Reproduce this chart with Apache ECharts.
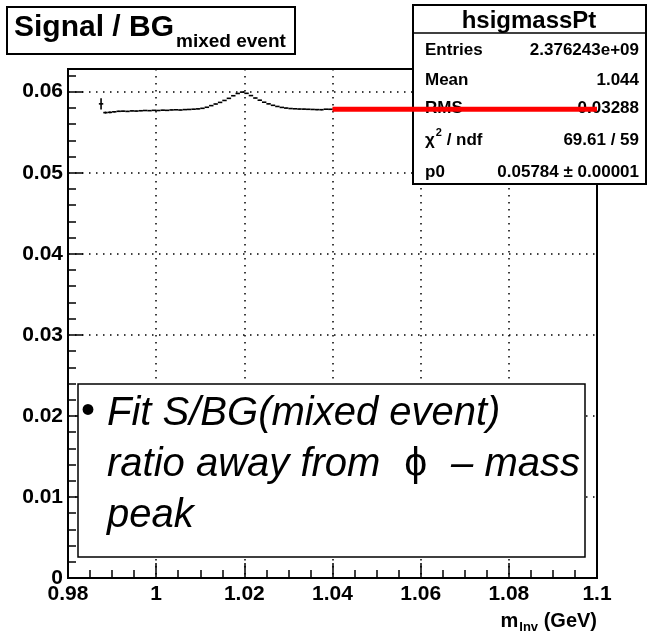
<!DOCTYPE html>
<html><head><meta charset="utf-8">
<script src="https://cdn.jsdelivr.net/npm/echarts@6/dist/echarts.min.js"></script>
<style>html,body{margin:0;padding:0;background:#fff}#c{width:647px;height:639px}</style>
</head><body><div id="c"></div>
<script>
// ---- data ----
const binStart = 0.987;
const binWidth = 0.001;
const sigOverBg = [
  0.05850, 0.05742, 0.05745, 0.05752, 0.05758, 0.05760, 0.05757, 0.05763, 0.05761, 0.05765,
  0.05768, 0.05766, 0.05770, 0.05768, 0.05772, 0.05770, 0.05775, 0.05777, 0.05774, 0.05779,
  0.05781, 0.05784, 0.05788, 0.05795, 0.05808, 0.05828, 0.05848, 0.05868, 0.05892, 0.05918,
  0.05950, 0.05978, 0.05995, 0.05980, 0.05952, 0.05922, 0.05895, 0.05870, 0.05850, 0.05832,
  0.05818, 0.05806, 0.05798, 0.05792, 0.05789, 0.05786, 0.05785, 0.05783, 0.05781, 0.05779,
  0.05778, 0.05784, 0.05783, 0.05785, 0.05782, 0.05786, 0.05783, 0.05781, 0.05785, 0.05784,
  0.05787, 0.05782, 0.05784, 0.05786, 0.05783, 0.05785, 0.05781, 0.05784, 0.05786, 0.05782,
  0.05785, 0.05783, 0.05787, 0.05784, 0.05782, 0.05785, 0.05786, 0.05783, 0.05784, 0.05781,
  0.05785, 0.05784, 0.05787, 0.05783, 0.05782, 0.05786, 0.05784, 0.05785, 0.05783, 0.05784,
  0.05782, 0.05786, 0.05785, 0.05783, 0.05784, 0.05787, 0.05782, 0.05784, 0.05785, 0.05783,
  0.05786, 0.05784, 0.05781, 0.05785, 0.05784, 0.05783, 0.05786, 0.05784, 0.05782, 0.05785,
  0.05784, 0.05783, 0.05785
];
const sigErr = [
  0.00070, 0.00012, 0.00010, 0.00008, 0.00007, 0.00006, 0.00006, 0.00005, 0.00005, 0.00005,
  0.00005, 0.00004, 0.00004, 0.00004, 0.00004, 0.00004, 0.00004, 0.00004, 0.00004, 0.00004,
  0.00004, 0.00004, 0.00004, 0.00004, 0.00004, 0.00004, 0.00004, 0.00004, 0.00004, 0.00004,
  0.00004, 0.00004, 0.00004, 0.00004, 0.00004, 0.00004, 0.00004, 0.00004, 0.00004, 0.00004,
  0.00004, 0.00004, 0.00004, 0.00004, 0.00004, 0.00004, 0.00004, 0.00004, 0.00004, 0.00008,
  0.00008, 0.00004, 0.00004, 0.00004, 0.00004, 0.00004, 0.00004, 0.00004, 0.00004, 0.00004,
  0.00004, 0.00004, 0.00004, 0.00004, 0.00004, 0.00004, 0.00004, 0.00004, 0.00004, 0.00004,
  0.00004, 0.00004, 0.00004, 0.00004, 0.00004, 0.00004, 0.00004, 0.00004, 0.00004, 0.00004,
  0.00004, 0.00004, 0.00004, 0.00004, 0.00004, 0.00004, 0.00004, 0.00004, 0.00004, 0.00004,
  0.00004, 0.00004, 0.00004, 0.00004, 0.00004, 0.00004, 0.00004, 0.00004, 0.00004, 0.00004,
  0.00004, 0.00004, 0.00004, 0.00004, 0.00004, 0.00004, 0.00004, 0.00004, 0.00004, 0.00004,
  0.00004, 0.00004, 0.00004
];
const fitRange = [1.04, 1.1];
const fitP0 = 0.05784;

const xTickValues = [0.98, 1.00, 1.02, 1.04, 1.06, 1.08, 1.10];
const xTickLabels = ['0.98', '1', '1.02', '1.04', '1.06', '1.08', '1.1'];
const yTickValues = [0, 0.01, 0.02, 0.03, 0.04, 0.05, 0.06];
const yTickLabels = ['0', '0.01', '0.02', '0.03', '0.04', '0.05', '0.06'];

const titleMain = 'Signal / BG';
const titleSub = 'mixed event';
const xTitleMain = 'm';
const xTitleSub = 'Inv';
const xTitleUnit = ' (GeV)';

const statsTitle = 'hsigmassPt';
const statsNames = ['Entries', 'Mean', 'RMS', 'χ', 'p0'];
const statsValues = ['2.376243e+09', '1.044', '0.03288', '69.61 / 59', '0.05784 ± 0.00001'];

const noteBullet = '•';
const noteLine1 = 'Fit S/BG(mixed event)';
const noteLine2a = 'ratio away from';
const noteLine2b = 'ϕ';
const noteLine2c = '– mass';
const noteLine3 = 'peak';

// ---- helpers ----
const FF = '"Liberation Sans", Arial, Helvetica, sans-serif';
const mctx = document.createElement('canvas').getContext('2d');
function tw(text, size, weight, style) {
  mctx.font = (style || 'normal') + ' ' + (weight || 'normal') + ' ' + size + 'px ' + FF;
  return mctx.measureText(text).width;
}
function lab(values, labels) {
  return function (v) {
    for (let i = 0; i < values.length; i++) if (Math.abs(values[i] - v) < 1e-9) return labels[i];
    return '';
  };
}
function txt(text, x, y, size, opts) {
  opts = opts || {};
  return {
    type: 'text', z: opts.z || 60, x: x, y: y,
    style: {
      text: text, fill: '#000', fontFamily: FF, fontSize: size,
      fontWeight: opts.weight || 'normal', fontStyle: opts.style || 'normal',
      align: opts.align || 'left', verticalAlign: 'middle'
    }
  };
}

const histData = sigOverBg.map((v, i) => [binStart + binWidth * (i + 0.5), v, sigErr[i]]);

// ---- layout constants ----
const G = { left: 68, right: 50, top: 69, bottom: 61 };

const wMain = tw(titleMain, 30, 'bold');
const wXsub = tw(xTitleSub, 13, 'bold');
const wXunit = tw(xTitleUnit, 20, 'bold');
const wChi = tw('χ', 17, 'bold');
const wSup = tw('2', 11, 'bold');

const note2aEnd = 107 + tw(noteLine2a, 40, 'normal', 'italic');
const note2cStart = 580 - tw(noteLine2c, 40, 'normal', 'italic');
const phiX = (note2aEnd + note2cStart) / 2;

const graphics = [
  // title box
  { type: 'rect', z: 50, shape: { x: 7, y: 7, width: 288, height: 47 }, style: { fill: '#fff', stroke: '#000', lineWidth: 2 } },
  txt(titleMain, 14, 28, 30, { weight: 'bold' }),
  txt(titleSub, 14 + wMain + 2, 42, 19, { weight: 'bold' }),
  // stats box
  { type: 'rect', z: 50, shape: { x: 413, y: 5, width: 233, height: 179 }, style: { fill: '#fff', stroke: '#000', lineWidth: 2 } },
  { type: 'line', z: 51, shape: { x1: 413, y1: 33, x2: 646, y2: 33 }, style: { stroke: '#000', lineWidth: 1.5 } },
  txt(statsTitle, 529, 21, 24, { weight: 'bold', align: 'center' }),
  // note box
  { type: 'rect', z: 50, shape: { x: 78, y: 384, width: 507, height: 173 }, style: { fill: '#fff', stroke: '#000', lineWidth: 1.5 } },
  txt(noteBullet, 81, 412, 40),
  txt(noteLine1, 107, 414, 40, { style: 'italic' }),
  txt(noteLine2a, 107, 465, 40, { style: 'italic' }),
  txt(noteLine2b, phiX, 465, 41, { align: 'center' }),
  txt(noteLine2c, note2cStart, 465, 40, { style: 'italic' }),
  txt(noteLine3, 107, 516, 40, { style: 'italic' }),
  // x axis title
  txt(xTitleUnit, 597, 621, 20, { weight: 'bold', align: 'right' }),
  txt(xTitleSub, 597 - wXunit, 627, 13, { weight: 'bold', align: 'right' }),
  txt(xTitleMain, 597 - wXunit - wXsub - 1, 621, 20, { weight: 'bold', align: 'right' })
];
const rowY = [50, 80, 108, 140, 172];
statsNames.forEach((n, i) => {
  graphics.push(txt(n, 425, rowY[i], 17, { weight: 'bold' }));
  graphics.push(txt(statsValues[i], 639, rowY[i], 17, { weight: 'bold', align: 'right' }));
});
graphics.push(txt('2', 425 + wChi + 1, rowY[3] - 7, 11, { weight: 'bold' }));
graphics.push(txt(' / ndf', 425 + wChi + wSup + 1, rowY[3], 17, { weight: 'bold' }));

const axisFont = { fontFamily: FF, fontWeight: 'bold', fontSize: 21, color: '#000' };
const black = { color: '#000', width: 1.5 };

const chart = echarts.init(document.getElementById('c'), null, { renderer: 'canvas' });
chart.setOption({
  backgroundColor: '#fff',
  animation: false,
  grid: { left: G.left, right: G.right, top: G.top, bottom: G.bottom, show: true, borderColor: '#000', borderWidth: 2, backgroundColor: 'transparent' },
  xAxis: {
    type: 'value', min: 0.98, max: 1.1, interval: 0.02,
    axisLine: { show: true, lineStyle: { color: '#000', width: 2 } },
    axisTick: { show: true, inside: true, length: 15, lineStyle: black },
    minorTick: { show: true, splitNumber: 4, length: 8, lineStyle: black },
    splitLine: { show: true, lineStyle: { color: '#000', width: 1.5, type: [1.5, 5.5] } },
    axisLabel: Object.assign({ margin: 6, formatter: lab(xTickValues, xTickLabels) }, axisFont)
  },
  yAxis: [{
    type: 'value', min: 0, max: 0.0628, interval: 0.01,
    axisLine: { show: true, lineStyle: { color: '#000', width: 2 } },
    axisTick: { show: true, inside: true, length: 15, lineStyle: black },
    splitLine: { show: true, lineStyle: { color: '#000', width: 1.5, type: [1.5, 5.5] } },
    axisLabel: Object.assign({ margin: 5, formatter: lab(yTickValues, yTickLabels) }, axisFont)
  }, {
    type: 'value', min: 0, max: 0.0628, interval: 0.002, position: 'left',
    axisLine: { show: false },
    axisTick: { show: true, inside: true, length: 8, lineStyle: black },
    splitLine: { show: false },
    axisLabel: { show: false }
  }],
  series: [{
    type: 'custom',
    z: 10,
    clip: true,
    data: histData,
    renderItem: function (params, api) {
      const x = api.value(0), y = api.value(1), e = api.value(2);
      const pL = api.coord([x - binWidth / 2, y]);
      const pR = api.coord([x + binWidth / 2, y]);
      const pT = api.coord([x, y + e]);
      const pB = api.coord([x, y - e]);
      return {
        type: 'group', children: [
          { type: 'line', shape: { x1: pL[0], y1: pL[1], x2: pR[0], y2: pR[1] }, style: { stroke: '#000', lineWidth: 1.6 } },
          { type: 'line', shape: { x1: pT[0], y1: pT[1], x2: pB[0], y2: pB[1] }, style: { stroke: '#000', lineWidth: 1.6 } }
        ]
      };
    }
  }, {
    type: 'line',
    z: 100,
    symbol: 'none',
    silent: true,
    data: [[fitRange[0], fitP0], [fitRange[1], fitP0]],
    lineStyle: { color: '#ff0000', width: 5 }
  }],
  graphic: { elements: graphics }
});
</script>
</body></html>
